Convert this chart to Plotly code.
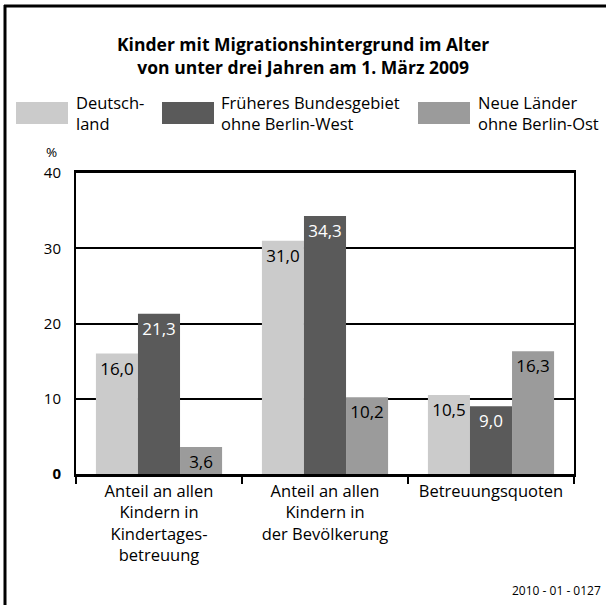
import plotly.graph_objects as go

categories = ["Anteil an allen<br>Kindern in<br>Kindertages-<br>betreuung",
              "Anteil an allen<br>Kindern in<br>der Bevölkerung",
              "Betreuungsquoten"]
series_names = ["Deutsch-<br>land", "Früheres Bundesgebiet<br>ohne Berlin-West", "Neue Länder<br>ohne Berlin-Ost"]
deutschland = [16.0, 31.0, 10.5]
frueheres = [21.3, 34.3, 9.0]
neue = [3.6, 10.2, 16.3]
y_ticks = [0, 10, 20, 30, 40]
y_ticktext = ["<b>0</b>", "10", "20", "30", "40"]
colors = ["#cbcbcb", "#5a5a5a", "#9b9b9b"]
text_colors = ["black", "white", "black"]

FONT = "Open Sans"
W, H = 606, 605
L, R, T, B = 76, 574, 173, 474

def px(x):
    return (x - L) / (R - L)

def py(y):
    return (B - y) / (B - T)

def fmt(v):
    return f"{v:.1f}".replace(".", ",")

fig = go.Figure()
for name, vals, c, tc in zip(series_names, [deutschland, frueheres, neue], colors, text_colors):
    fig.add_trace(go.Bar(
        x=categories, y=vals, name=name, marker=dict(color=c, line=dict(width=0)),
        text=[fmt(v) for v in vals], textposition="inside", insidetextanchor="end",
        textangle=0, constraintext="none",
        insidetextfont=dict(color=tc, size=17, family=FONT),
        showlegend=False,
    ))

shapes = []
annotations = []
# outer border (left and top)
shapes.append(dict(type="line", xref="paper", yref="paper", x0=px(4), x1=px(606), y0=py(6), y1=py(6),
                   line=dict(color="black", width=3)))
shapes.append(dict(type="line", xref="paper", yref="paper", x0=px(5), x1=px(5), y0=py(5), y1=py(605),
                   line=dict(color="black", width=3)))
# legend
leg_boxes = [(16, 68), (162, 214), (418, 470)]
leg_text_x = [76, 221, 478]
for (x0, x1), tx, c, name in zip(leg_boxes, leg_text_x, colors, series_names):
    shapes.append(dict(type="rect", xref="paper", yref="paper", x0=px(x0), x1=px(x1), y0=py(124), y1=py(102),
                       fillcolor=c, line=dict(width=0)))
    annotations.append(dict(xref="paper", yref="paper", x=px(tx - 2), y=py(113), text=name, showarrow=False,
                            xanchor="left", yanchor="middle", align="left",
                            font=dict(family=FONT, size=16.5, color="black")))

annotations.append(dict(xref="paper", yref="paper", x=px(303), y=py(55),
                        text="<b>Kinder mit Migrationshintergrund im Alter<br>von unter drei Jahren am 1. März 2009</b>",
                        showarrow=False, xanchor="center", yanchor="middle", align="center",
                        font=dict(family=FONT, size=17.5, color="black")))
annotations.append(dict(xref="paper", yref="paper", x=px(44), y=py(152), text="%", showarrow=False,
                        xanchor="left", yanchor="middle", font=dict(family=FONT, size=13.5, color="black")))
annotations.append(dict(xref="paper", yref="paper", x=px(603), y=py(590), text="2010 - 01 - 0127", showarrow=False,
                        xanchor="right", yanchor="middle", font=dict(family=FONT, size=12, color="black")))

fig.update_layout(
    width=W, height=H,
    margin=dict(l=L, r=W - R, t=T, b=H - B),
    paper_bgcolor="white", plot_bgcolor="white",
    barmode="group", bargap=0.24, bargroupgap=0,
    font=dict(family=FONT, size=16, color="black"),
    shapes=shapes, annotations=annotations,
    xaxis=dict(showline=True, linecolor="black", linewidth=3, mirror=True,
               ticks="outside", tickson="boundaries", ticklen=7, tickwidth=1.5, tickcolor="black",
               tickfont=dict(family=FONT, size=16.5, color="black"), showgrid=False),
    yaxis=dict(range=[0, 40], tickmode="array", tickvals=y_ticks, ticktext=y_ticktext,
               showline=True, linecolor="black", linewidth=2, mirror=True,
               showgrid=True, gridcolor="black", gridwidth=1.5, zeroline=False,
               ticks="", ticklabelstandoff=10,
               tickfont=dict(family=FONT, size=15, color="black")),
)

fig.write_html("out.html", config={"displayModeBar": False},
               post_script="document.body.style.margin='0';")
